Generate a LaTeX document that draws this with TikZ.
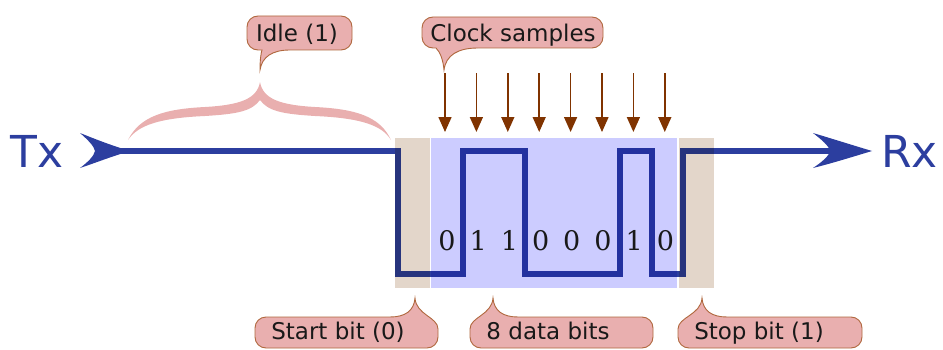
\documentclass[tikz,border=0pt]{standalone}
\usepackage{fontspec}
\setmainfont{DejaVu Sans}
\newfontfamily\digitfont{DejaVu Serif}
\usetikzlibrary{arrows.meta}

\definecolor{sigblue}{HTML}{2C3E9F}
\definecolor{clockbrown}{HTML}{803300}
\definecolor{calloutpink}{HTML}{E9AFAF}
\definecolor{calloutedge}{HTML}{B0683E}
\definecolor{tanbit}{HTML}{E3D6CA}
\definecolor{databit}{HTML}{CCCCFF}

\tikzset{
  signal/.style={draw=sigblue, line width=6.5pt, line join=miter},
  clockarrow/.style={draw=clockbrown, line width=1.5pt,
    -{Triangle[length=15pt,width=13pt]}},
  callout/.style={fill=calloutpink, draw=calloutedge, line width=0.9pt},
  calltext/.style={anchor=base, inner sep=0pt, text=black!90,
    font=\fontsize{23}{23}\selectfont},
  digit/.style={anchor=base, inner sep=0pt, text=black!90,
    font=\digitfont\fontsize{27}{27}\selectfont},
  portlabel/.style={anchor=base west, inner sep=0pt, text=sigblue,
    font=\fontsize{44}{44}\selectfont},
}

\begin{document}
\begin{tikzpicture}[x=1pt,y=1pt]
\useasboundingbox (0,0) rectangle (943,349);

% ---- signal waveform: idle high, start bit, data 01100010, stop bit
\coordinate (txtip) at (130,198);
\coordinate (w0) at (100,198);
\coordinate (w1) at (398,198);
\coordinate (w2) at (398,75);
\coordinate (w3) at (463,75);
\coordinate (w4) at (463,198);
\coordinate (w5) at (525,198);
\coordinate (w6) at (525,75);
\coordinate (w7) at (620,75);
\coordinate (w8) at (620,198);
\coordinate (w9) at (652,198);
\coordinate (w10) at (652,75);
\coordinate (w11) at (683,75);
\coordinate (w12) at (683,198);
\coordinate (rxend) at (835,198);
\coordinate (rxtip) at (872,198);

\draw[signal] (w0) -- (w1) -- (w2) -- (w3) -- (w4) -- (w5) -- (w6) -- (w7)
  -- (w8) -- (w9) -- (w10) -- (w11) -- (w12) -- (rxend);

% arrow heads on both ends of the line
\fill[sigblue] (txtip) .. controls (110,204) and (95,210) .. (80,216)
  .. controls (88,209) and (94,203) .. (95,198)
  .. controls (94,193) and (88,187) .. (80,181)
  .. controls (95,186) and (110,192) .. (txtip) -- cycle;
\fill[sigblue] (rxtip) .. controls (852,204) and (833,210) .. (813,216)
  .. controls (822,209) and (829,203) .. (830,198)
  .. controls (829,193) and (822,187) .. (813,181)
  .. controls (833,186) and (852,192) .. (rxtip) -- cycle;

% ---- bit frames, tinted over the waveform
\begin{scope}[blend mode=multiply]
  \fill[tanbit] (395,61) rectangle (430,211);
  \fill[databit] (431,61) rectangle (677,211);
  \fill[tanbit] (679,61) rectangle (714,211);
\end{scope}

% ---- bit values
\foreach \d [count=\i from 0] in {0,1,1,0,0,0,1,0}
  \node[digit] (d\i) at (447+31.2*\i,99) {\d};

% ---- receiver sampling instants
\foreach \i in {0,...,7} {
  \coordinate (ct\i) at (445+31.4*\i,276);
  \coordinate (cb\i) at (445+31.4*\i,217);
  \draw[clockarrow] (ct\i) -- (cb\i);
}

% ---- brace over the idle section
\fill[calloutpink]
  (128,209) .. controls (140,233) and (165,240) .. (205,242)
  .. controls (240,244) and (257,250) .. (260,267)
  .. controls (263,250) and (280,244) .. (315,242)
  .. controls (355,240) and (380,233) .. (391,209)
  .. controls (382,224) and (360,231) .. (315,233)
  .. controls (282,235) and (268,238) .. (260,249)
  .. controls (252,238) and (238,235) .. (205,233)
  .. controls (160,231) and (138,224) .. (128,209) -- cycle;

% ---- callouts with tails pointing down
\draw[callout] (258,333) -- (341,333) arc[start angle=90,end angle=0,radius=11]
  -- (352,310) arc[start angle=0,end angle=-90,radius=11]
  -- (290,299) .. controls (272,299) and (262,292) .. (260,279)
  .. controls (260,289) and (261,296) .. (262,299)
  -- (258,299) arc[start angle=270,end angle=180,radius=11]
  -- (247,322) arc[start angle=180,end angle=90,radius=11] -- cycle;
\node[calltext] (idle) at (297,307) {Idle (1)};

\draw[callout] (433,332) -- (592,332) arc[start angle=90,end angle=0,radius=11]
  -- (603,312) arc[start angle=0,end angle=-90,radius=11]
  -- (478,301) .. controls (458,301) and (446,294) .. (444,279)
  .. controls (443,290) and (440,297) .. (436,301)
  -- (433,301) arc[start angle=270,end angle=180,radius=11]
  -- (422,321) arc[start angle=180,end angle=90,radius=11] -- cycle;
\node[calltext] (clock) at (513,308) {Clock samples};

% ---- callouts with tails pointing up
\draw[callout] (266,1) -- (427,1) arc[start angle=-90,end angle=0,radius=11]
  -- (438,20) .. controls (438,32) and (416,34) .. (415,51)
  .. controls (414,38) and (405,32) .. (390,32)
  -- (266,32) arc[start angle=90,end angle=180,radius=11]
  -- (255,12) arc[start angle=180,end angle=270,radius=11] -- cycle;
\node[calltext] (startbit) at (338,10) {Start bit (0)};

\draw[callout] (481,1) -- (642,1) arc[start angle=-90,end angle=0,radius=11]
  -- (653,21) arc[start angle=0,end angle=90,radius=11]
  -- (518,32) .. controls (503,32) and (494,38) .. (493,51)
  .. controls (492,34) and (470,32) .. (470,20)
  -- (470,12) arc[start angle=180,end angle=270,radius=11] -- cycle;
\node[calltext] (databits) at (548,10) {8 data bits};

\draw[callout] (689,1) -- (851,1) arc[start angle=-90,end angle=0,radius=11]
  -- (862,21) arc[start angle=0,end angle=90,radius=11]
  -- (727,32) .. controls (712,32) and (703,38) .. (702,51)
  .. controls (701,34) and (678,32) .. (678,20)
  -- (678,12) arc[start angle=180,end angle=270,radius=11] -- cycle;
\node[calltext] (stopbit) at (759,10) {Stop bit (1)};

% ---- end labels
\node[portlabel] (tx) at (10,182) {Tx};
\node[portlabel] (rx) at (881,182) {Rx};
\end{tikzpicture}
\end{document}
